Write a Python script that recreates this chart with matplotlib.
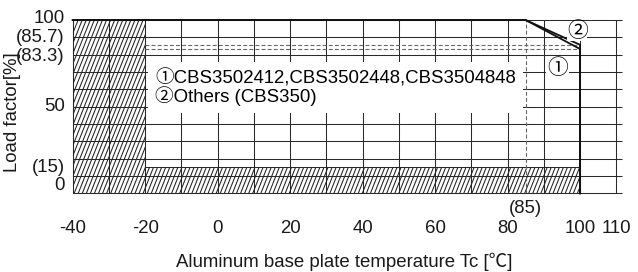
import matplotlib
matplotlib.use("Agg")
import matplotlib.pyplot as plt
import numpy as np
from matplotlib.collections import LineCollection
from matplotlib.patches import Polygon
from matplotlib.transforms import blended_transform_factory, offset_copy

plt.rcParams["font.family"] = ["Liberation Sans", "Noto Sans CJK JP", "DejaVu Sans"]

# derating curves (temperature [C], load factor [%])
temp_1 = [-40, 85, 100, 100]
load_1 = [100, 100, 83.3, 0]
temp_2 = [-40, 85, 100, 100]
load_2 = [100, 100, 85.7, 0]

# restricted (hatched) area limits
t_min, t_low, t_max = -40, -20, 100
load_min, load_max = 15, 100

x_ticks = [-40, -20, 0, 20, 40, 60, 80, 100, 110]
x_ticklabels = ["-40", "-20", "0", "20", "40", "60", "80", "100", "110"]
y_ticks = [100, 85.7, 83.3, 50, 15, 0]
y_ticklabels = ["100", "(85.7)", "(83.3)", "50", "(15)", "0"]
y_label_shift = [2, 7, -8, 0, 0, 8]  # px, to keep labels apart

knee_temp = 85
legend_text = "\u2460CBS3502412,CBS3502448,CBS3504848\n\u2461Others (CBS350)"

fs = 13.4
txt_c = "#1a1a1a"
grid_c = "#2a2a2a"

fig = plt.figure(figsize=(6.38, 2.72), dpi=100)
ax = fig.add_axes([0.114, 0.2893, 0.861, 0.637])
x_max = 111.6
ax.set_xlim(-40, x_max)
ax.set_ylim(0, 100)
for s in ax.spines.values():
    s.set_visible(False)
ax.set_yticks([])
ax.set_xticks(x_ticks, x_ticklabels, fontsize=fs)
ax.tick_params(axis="x", length=0, pad=19, colors=txt_c)

# grid
ax.vlines(np.arange(-40, 111, 10), 0, 100, color=grid_c, lw=0.75, zorder=1, clip_on=False)
ax.hlines(np.arange(0, 101, 10), -40, x_max, color=grid_c, lw=0.75, zorder=1, clip_on=False)

# hatched restricted area (steep hatch lines clipped to the area)
area = Polygon([(t_min, 0), (t_max, 0), (t_max, load_min), (t_low, load_min),
                (t_low, load_max), (t_min, load_max)], closed=True,
               facecolor="none", edgecolor=grid_c, lw=0.75, zorder=2, clip_on=False)
ax.add_patch(area)
starts = np.arange(-62, 101, 1.12)
segs = [[(x0, 0), (x0 + 19, 100)] for x0 in starts]
hatch = LineCollection(segs, colors="#222222", linewidths=0.75, zorder=2)
hatch.set_clip_path(area)
ax.add_collection(hatch)

# dashed reference lines
for v in (85.7, 83.3):
    ax.hlines(v, t_low, t_max, colors="#666666", lw=0.8, linestyles=(0, (3.5, 2)), zorder=3)
ax.vlines(knee_temp, 0, 100, colors="#666666", lw=0.8, linestyles=(0, (3.5, 2)), zorder=3)

# curves
ax.plot(temp_1, load_1, color="#111111", lw=1.3, zorder=4, solid_joinstyle="miter", clip_on=False)
ax.plot(temp_2, load_2, color="#111111", lw=1.3, zorder=4, solid_joinstyle="miter", clip_on=False)

# legend box
ax.text(-17.2, 61, legend_text, fontsize=fs, va="center", ha="left",
        linespacing=0.9, zorder=5,
        bbox=dict(boxstyle="square,pad=0.38", facecolor="white", edgecolor="none"))
ax.text(99.2, 93.8, "\u2461", fontsize=fs + 1.5, ha="center", va="center", zorder=5,
        bbox=dict(boxstyle="square,pad=0.0", facecolor="white", edgecolor="none"))
ax.text(93.7, 72.3, "\u2460", fontsize=fs + 1.5, ha="center", va="center", zorder=5,
        bbox=dict(boxstyle="square,pad=0.05", facecolor="white", edgecolor="none"))

# y tick labels
ytr = blended_transform_factory(ax.transAxes, ax.transData)
for v, lab, dy in zip(y_ticks, y_ticklabels, y_label_shift):
    tr = offset_copy(ytr, fig=fig, x=-8, y=dy, units="dots")
    ax.text(0, v, lab, transform=tr, ha="right", va="center", fontsize=fs, color=txt_c)

xtr = blended_transform_factory(ax.transData, ax.transAxes)
ax.text(knee_temp, 0, "(85)", transform=offset_copy(xtr, fig=fig, y=-15, units="dots"),
        ha="center", va="center", fontsize=fs, color=txt_c)

fig.text(13 / 638, 1 - 112 / 272, "Load factor[%]", rotation=90, ha="center", va="center",
         fontsize=fs, color=txt_c)
fig.text(344 / 638, 1 - 262 / 272, "Aluminum base plate temperature Tc [\u2103]",
         ha="center", va="center", fontsize=fs, color=txt_c)

fig.savefig("out.png", dpi=100)
